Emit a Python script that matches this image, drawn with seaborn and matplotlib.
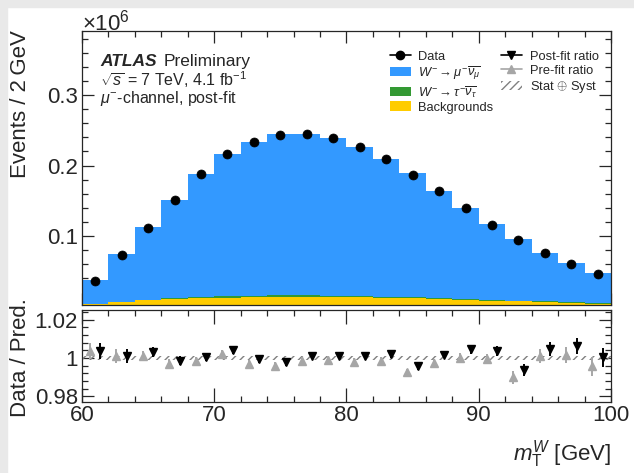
import numpy as np
import pandas as pd
import matplotlib
matplotlib.use('Agg')
import matplotlib.pyplot as plt
import seaborn as sns
from matplotlib.lines import Line2D
from matplotlib.patches import Patch, Rectangle
from matplotlib.ticker import MultipleLocator, FixedLocator, FuncFormatter, NullFormatter

# m_T^W bins (2 GeV wide), values in units of 10^6 events
bin_edges = list(range(60, 101, 2))
bin_centers = [61, 63, 65, 67, 69, 71, 73, 75, 77, 79, 81, 83, 85, 87, 89, 91, 93, 95, 97, 99]

data_evt = [0.0367, 0.0733, 0.1120, 0.1510, 0.1876, 0.2157, 0.2329, 0.2429, 0.2443, 0.2390,
            0.2270, 0.2095, 0.1870, 0.1633, 0.1395, 0.1160, 0.0943, 0.0762, 0.0605, 0.0467]
w_munu = [0.0334, 0.0669, 0.1027, 0.1394, 0.1743, 0.2013, 0.2180, 0.2288, 0.2293, 0.2240,
          0.2121, 0.1957, 0.1759, 0.1523, 0.1292, 0.1075, 0.0877, 0.0692, 0.0552, 0.0428]
w_taunu = [0.0004, 0.0007, 0.0011, 0.0015, 0.0018, 0.0020, 0.0021, 0.0022, 0.0022, 0.0021,
           0.0020, 0.0019, 0.0017, 0.0015, 0.0013, 0.0011, 0.0009, 0.0008, 0.0006, 0.0005]
bkg = [0.0033, 0.0062, 0.0086, 0.0105, 0.0119, 0.0124, 0.0129, 0.0133, 0.0133, 0.0129,
       0.0129, 0.0119, 0.0114, 0.0100, 0.0090, 0.0081, 0.0071, 0.0062, 0.0052, 0.0038]

ratio_post = [1.0034, 1.0009, 1.0029, 0.9986, 1.0003, 1.0043, 0.9995, 0.9980, 1.0012, 1.0012,
              1.0012, 1.0020, 0.9957, 1.0017, 1.0046, 1.0037, 0.9937, 1.0048, 1.0060, 1.0003]
ratio_post_err = [0.0042, 0.0036, 0.0026, 0.0022, 0.002, 0.002, 0.002, 0.002, 0.002, 0.002,
                  0.002, 0.002, 0.002, 0.002, 0.0024, 0.0026, 0.0032, 0.0036, 0.0042, 0.005]
ratio_pre = [1.0034, 1.0012, 1.0012, 0.9970, 0.9986, 1.0022, 0.9970, 0.9957, 0.9983, 0.9988,
             0.9978, 0.9986, 0.9924, 0.9975, 1.0000, 0.9995, 0.9898, 1.0009, 1.0017, 0.9957]
ratio_pre_err = [0.0042, 0.0036, 0.0026, 0.0022, 0.002, 0.002, 0.002, 0.002, 0.002, 0.002,
                 0.002, 0.002, 0.002, 0.002, 0.0024, 0.0026, 0.0032, 0.0036, 0.0042, 0.005]
band_err = [0.001] * 20

lab_mu = r'$W^{-}\rightarrow\mu^{-}\overline{\nu_{\mu}}$'
lab_tau = r'$W^{-}\rightarrow\tau^{-}\overline{\nu_{\tau}}$'
lab_bkg = 'Backgrounds'

sns.set_style('ticks')
plt.rcParams['font.family'] = ['Liberation Sans', 'DejaVu Sans']
plt.rcParams['mathtext.fontset'] = 'custom'
plt.rcParams['mathtext.rm'] = 'Liberation Sans'
plt.rcParams['mathtext.it'] = 'Liberation Sans:italic'
plt.rcParams['mathtext.bf'] = 'Liberation Sans:bold'
plt.rcParams['hatch.linewidth'] = 1.0
plt.rcParams['axes.linewidth'] = 0.9

df = pd.DataFrame({
    'mt': bin_centers * 3,
    'w': w_munu + w_taunu + bkg,
    'proc': [lab_mu] * 20 + [lab_tau] * 20 + [lab_bkg] * 20,
})
colors = {lab_mu: '#3399ff', lab_tau: '#339933', lab_bkg: '#ffcc00'}

fig = plt.figure(figsize=(6.34, 4.73), dpi=100)
ax = fig.add_axes([0.1293, 0.3552, 0.8344, 0.5793])
ax2 = fig.add_axes([0.1293, 0.1501, 0.8344, 0.1945])

# grey margin of the original canvas
fig.patches.append(Rectangle((0, 0), 7 / 634, 1, transform=fig.transFigure, color='#e9e9e9', zorder=-1))
fig.patches.append(Rectangle((0, 1 - 7 / 473), 1, 7 / 473, transform=fig.transFigure, color='#e9e9e9', zorder=-1))

sns.histplot(data=df, x='mt', weights='w', hue='proc', hue_order=[lab_mu, lab_tau, lab_bkg],
             multiple='stack', bins=bin_edges, element='step', fill=True, alpha=1,
             linewidth=0, palette=colors, legend=False, ax=ax)
sns.scatterplot(x=bin_centers, y=data_evt, color='black', s=42, edgecolor='black',
                linewidth=0.5, zorder=5, legend=False, ax=ax)

ax.set_xlim(60, 100)
ax.set_ylim(0.002, 0.391)
ax.set_xlabel('')
ax.set_ylabel('')
ax.xaxis.set_major_locator(MultipleLocator(10))
ax.xaxis.set_minor_locator(MultipleLocator(2))
ax.xaxis.set_major_formatter(NullFormatter())
ax.yaxis.set_major_locator(MultipleLocator(0.1))
ax.yaxis.set_minor_locator(MultipleLocator(0.02))
ax.yaxis.set_major_formatter(FuncFormatter(lambda v, p: '%g' % round(v, 3)))

# ratio panel
lo = 1 - np.append(band_err, band_err[-1])
hi = 1 + np.append(band_err, band_err[-1])
ax2.fill_between(bin_edges, lo, hi, step='post', facecolor='none', edgecolor='#808080',
                 hatch='////', linewidth=0)
ax2.errorbar(np.array(bin_centers) - 0.4, ratio_pre, yerr=ratio_pre_err, fmt='^',
             color='#a6a6a6', ms=6, elinewidth=1.4, capsize=0, zorder=3)
ax2.errorbar(np.array(bin_centers) + 0.4, ratio_post, yerr=ratio_post_err, fmt='v',
             color='black', ms=6, elinewidth=1.4, capsize=0, zorder=4)
ax2.set_xlim(60, 100)
ax2.set_ylim(0.977, 1.025)
ax2.xaxis.set_major_locator(MultipleLocator(10))
ax2.xaxis.set_minor_locator(MultipleLocator(2))
ax2.yaxis.set_major_locator(FixedLocator([0.98, 1.0, 1.02]))
ax2.yaxis.set_minor_locator(MultipleLocator(0.004))
ax2.yaxis.set_major_formatter(FuncFormatter(lambda v, p: '%g' % round(v, 3)))

for a in (ax, ax2):
    a.tick_params(which='both', direction='in', top=True, right=True, labelsize=16, width=0.9)
    a.tick_params(which='major', length=8.6, pad=3)
    a.tick_params(which='minor', length=4.3)
ax2.tick_params(axis='x', which='major', length=10, pad=2)

fig.text(0.129, 0.953, r'$\times10^{6}$', fontsize=16, ha='left', va='center')
fig.text(0.032, 0.937, 'Events / 2\u2009GeV', fontsize=16, rotation=90, ha='center', va='top')
fig.text(0.032, 0.245, 'Data / Pred.', fontsize=16, rotation=90, ha='center', va='center')
fig.text(0.965, 0.04, r'$m_{\mathrm{T}}^{W}$ [GeV]', fontsize=16, ha='right', va='center')

ax.text(0.034, 0.890, 'ATLAS', fontsize=12.5, fontweight='bold', style='italic',
        transform=ax.transAxes, va='center')
ax.text(0.155, 0.890, 'Preliminary', fontsize=12.5, transform=ax.transAxes, va='center')
ax.text(0.034, 0.821, r'$\sqrt{s}$ = 7 TeV, 4.1 fb$^{-1}$', fontsize=11.5,
        transform=ax.transAxes, va='center')
ax.text(0.034, 0.752, r'$\mu^{-}$-channel, post-fit', fontsize=11.5,
        transform=ax.transAxes, va='center')

handles = [
    Line2D([], [], color='black', marker='o', ms=6, lw=1.2),
    Patch(facecolor=colors[lab_mu], edgecolor='none'),
    Patch(facecolor=colors[lab_tau], edgecolor='none'),
    Patch(facecolor=colors[lab_bkg], edgecolor='none'),
    Line2D([], [], color='black', marker='v', ms=6, lw=1.2),
    Line2D([], [], color='#a6a6a6', marker='^', ms=6, lw=1.2),
    Patch(facecolor='none', edgecolor='#808080', hatch='////', linewidth=0),
]
labels = ['Data', lab_mu, lab_tau, lab_bkg, 'Post-fit ratio', 'Pre-fit ratio', r'Stat $\oplus$ Syst']
ax.legend(handles, labels, ncol=2, loc='upper left', bbox_to_anchor=(0.582, 0.928),
          frameon=False, fontsize=9.3, handlelength=1.6, handletextpad=0.6,
          columnspacing=0.6, labelspacing=0.15, borderpad=0, borderaxespad=0)

fig.savefig('out.png', dpi=100)
